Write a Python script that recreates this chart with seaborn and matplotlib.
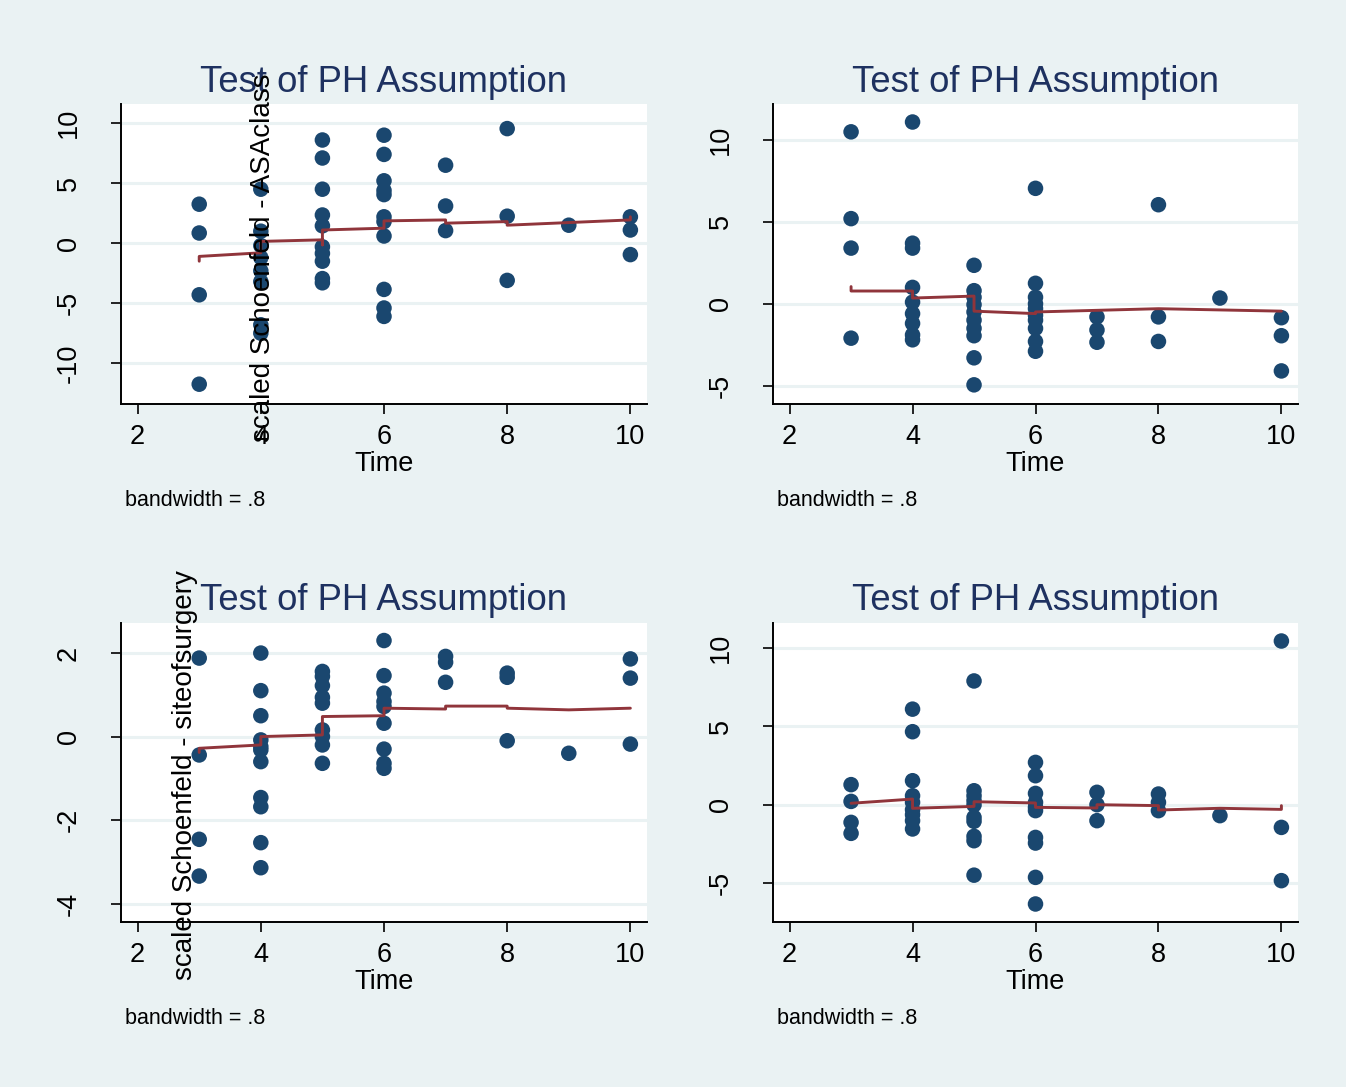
import numpy as np
import pandas as pd
import matplotlib
matplotlib.use("Agg")
import matplotlib.pyplot as plt
import seaborn as sns

# -----------------------------
# DATA
# -----------------------------

# panel 1: scaled Schoenfeld - ASAclass
p1_time = [3, 3, 3, 3,
           4, 4, 4, 4, 4, 4, 4, 4,
           5, 5, 5, 5, 5, 5, 5, 5, 5, 5,
           6, 6, 6, 6, 6, 6, 6, 6, 6, 6, 6,
           7, 7, 7, 8, 8, 8, 9, 10, 10, 10]
p1_res = [3.25, 0.85, -4.3, -11.75,
          4.5, 1.0, -0.2, -1.2, -2.3, -3.2, -6.8, -7.5,
          8.6, 7.1, 4.5, 2.35, 1.45, -0.3, -0.85, -1.5, -2.95, -3.3,
          9.0, 7.4, 5.2, 4.4, 4.05, 2.2, 1.8, 0.6, -3.85, -5.4, -6.1,
          6.5, 3.1, 1.05, 9.55, 2.25, -3.1, 1.5, 2.2, 1.1, -0.95]
p1_line_t = [3, 3, 4, 4, 5, 5, 5, 6, 6, 7, 7, 8, 8, 10, 10]
p1_line_r = [-1.5, -1.1, -0.8, 0.15, 0.28, -0.14, 1.1, 1.25, 1.86, 1.94, 1.67, 1.8, 1.5, 1.94, 2.2]

# panel 2
p2_time = [3, 3, 3, 3,
           4, 4, 4, 4, 4, 4, 4, 4, 4,
           5, 5, 5, 5, 5, 5, 5, 5, 5, 5,
           6, 6, 6, 6, 6, 6, 6, 6, 6, 6,
           7, 7, 7, 8, 8, 8, 9, 10, 10, 10]
p2_res = [10.5, 5.2, 3.4, -2.1,
          11.1, 3.7, 3.4, 1.0, 0.1, -0.6, -1.2, -1.9, -2.2,
          2.35, 0.8, 0.4, -0.05, -0.5, -1.0, -1.5, -1.95, -3.3, -4.95,
          7.05, 1.25, 0.4, 0.0, -0.3, -0.7, -1.0, -1.5, -2.3, -2.9,
          -0.8, -1.6, -2.35, 6.05, -0.8, -2.3, 0.35, -0.85, -1.95, -4.1]
p2_line_t = [3, 3, 4, 4, 5, 5, 6, 6, 8, 10]
p2_line_r = [1.05, 0.78, 0.78, 0.35, 0.47, -0.45, -0.6, -0.5, -0.3, -0.45]

# panel 3: scaled Schoenfeld - siteofsurgery
p3_time = [3, 3, 3, 3,
           4, 4, 4, 4, 4, 4, 4, 4, 4, 4, 4,
           5, 5, 5, 5, 5, 5, 5, 5, 5,
           6, 6, 6, 6, 6, 6, 6, 6, 6,
           7, 7, 7, 8, 8, 8, 9, 10, 10, 10]
p3_res = [1.88, -0.44, -2.46, -3.34,
          2.0, 1.1, 0.5, -0.08, -0.24, -0.32, -0.6, -1.46, -1.68, -2.54, -3.14,
          1.56, 1.44, 1.22, 0.94, 0.8, 0.16, 0.0, -0.2, -0.64,
          2.3, 1.46, 1.04, 0.84, 0.72, 0.32, -0.3, -0.64, -0.76,
          1.92, 1.78, 1.3, 1.52, 1.42, -0.1, -0.4, 1.86, 1.4, -0.18]
p3_line_t = [3, 3, 4, 4, 5, 5, 6, 6, 7, 7, 8, 8, 9, 10]
p3_line_r = [-0.38, -0.28, -0.2, 0.0, 0.04, 0.48, 0.5, 0.68, 0.66, 0.73, 0.73, 0.68, 0.64, 0.68]

# panel 4
p4_time = [3, 3, 3, 3,
           4, 4, 4, 4, 4, 4, 4, 4, 4,
           5, 5, 5, 5, 5, 5, 5, 5, 5, 5,
           6, 6, 6, 6, 6, 6, 6, 6, 6, 6,
           7, 7, 7, 8, 8, 8, 9, 10, 10, 10]
p4_res = [1.28, 0.21, -1.13, -1.83,
          6.1, 4.66, 1.53, 0.57, 0.15, -0.32, -0.64, -1.02, -1.55,
          7.9, 0.89, 0.57, 0.26, -0.02, -0.81, -1.06, -2.02, -2.3, -4.5,
          2.7, 1.85, 0.72, 0.15, -0.17, -0.38, -2.09, -2.45, -4.64, -6.34,
          0.79, 0.0, -1.02, 0.68, 0.15, -0.38, -0.7, 10.45, -1.45, -4.85]
p4_line_t = [3, 4, 4, 5, 5, 6, 6, 7, 7, 8, 8, 9, 10, 10]
p4_line_r = [0.09, 0.36, -0.23, -0.11, 0.19, 0.11, -0.17, -0.21, 0.0, -0.06, -0.34, -0.23, -0.3, -0.06]

x_ticks = [2, 4, 6, 8, 10]
title = "Test of PH Assumption"
note = "bandwidth = .8"

# -----------------------------
# STYLE
# -----------------------------
BG = "#EAF2F3"
NAVY = "#1A476F"
MAROON = "#90353B"
TITLE_C = "#1E3160"

sns.set_theme(style="white")
plt.rcParams['font.family'] = ['Liberation Sans', 'DejaVu Sans']
plt.rcParams['text.color'] = 'black'
plt.rcParams['axes.labelcolor'] = 'black'
plt.rcParams['xtick.color'] = 'black'
plt.rcParams['ytick.color'] = 'black'

W, H = 1346, 1087
fig = plt.figure(figsize=(W / 100, H / 100), dpi=100, facecolor=BG)


def px_axes(left, top, right, bottom):
    return fig.add_axes([left / W, 1 - bottom / H, (right - left) / W, (bottom - top) / H])


def draw(ax, t, r, lt, lr, yticks, ylim):
    ax.set_facecolor("white")
    for y in yticks:
        ax.axhline(y, color=BG, lw=2.2, zorder=0)
    df = pd.DataFrame({"Time": t, "res": r})
    sns.scatterplot(data=df, x="Time", y="res", ax=ax, color=NAVY, s=125,
                    edgecolor="none", zorder=3)
    ldf = pd.DataFrame({"Time": lt, "fit": lr})
    sns.lineplot(data=ldf, x="Time", y="fit", ax=ax, color=MAROON, lw=2.1,
                 estimator=None, sort=False, zorder=4)
    ax.set_xlim(1.73, 10.27)
    ax.set_ylim(*ylim)
    ax.set_xticks(x_ticks)
    ax.set_yticks(yticks)
    ax.set_yticklabels([str(v) for v in yticks], rotation=90, va="center")
    ax.tick_params(axis="x", length=7.2, width=1.2, labelsize=19.5, pad=7, bottom=True)
    ax.tick_params(axis="y", length=7.2, width=1.2, labelsize=19.5, pad=21, left=True)
    for s in ["top", "right"]:
        ax.spines[s].set_visible(False)
    for s in ["left", "bottom"]:
        ax.spines[s].set_color("black")
        ax.spines[s].set_linewidth(1.4)
    ax.set_xlabel("Time", fontsize=19.5, labelpad=1)
    ax.set_ylabel("")
    ax.set_title(title, fontsize=26.3, color=TITLE_C, pad=9)


ax1 = px_axes(121, 104, 647, 404)
draw(ax1, p1_time, p1_res, p1_line_t, p1_line_r, [-10, -5, 0, 5, 10], (-13.4, 11.6))
ax2 = px_axes(773, 104, 1298, 404)
draw(ax2, p2_time, p2_res, p2_line_t, p2_line_r, [-5, 0, 5, 10], (-6.12, 12.2))
ax3 = px_axes(121, 623, 647, 922)
draw(ax3, p3_time, p3_res, p3_line_t, p3_line_r, [-4, -2, 0, 2], (-4.44, 2.72))
ax4 = px_axes(773, 623, 1298, 922)
draw(ax4, p4_time, p4_res, p4_line_t, p4_line_r, [-5, 0, 5, 10], (-7.49, 11.6))

# notes under each panel
for x, y in [(125, 501), (777, 501), (125, 1019), (777, 1019)]:
    fig.text(x / W, 1 - y / H, note, fontsize=15.5, ha="left", va="center")

# y axis titles, drawn where Stata put them (overlapping the plot region)
fig.text(263 / W, 1 - 258 / H, "scaled Schoenfeld - ASAclass", rotation=90,
         fontsize=20, ha="center", va="center", zorder=10)
fig.text(185 / W, 1 - 775 / H, "scaled Schoenfeld - siteofsurgery", rotation=90,
         fontsize=20, ha="center", va="center", zorder=10)

fig.savefig("out.png", dpi=100, facecolor=BG)
